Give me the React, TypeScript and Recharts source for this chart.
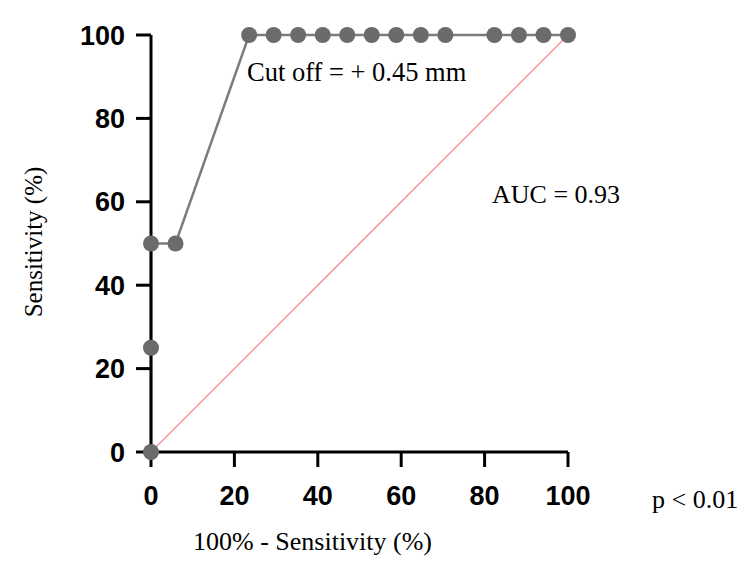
import { ComposedChart, Line, XAxis, YAxis } from 'recharts'

// ROC curve points: 100% - specificity vs sensitivity
const falsePositive = [0, 0, 0, 5.88, 23.53, 29.41, 35.29, 41.18, 47.06, 52.94, 58.82, 64.71, 70.59, 82.35, 88.24, 94.12, 100]
const sensitivity = [0, 25, 50, 50, 100, 100, 100, 100, 100, 100, 100, 100, 100, 100, 100, 100, 100]
const chanceX = [0, 100]
const ticks = [0, 20, 40, 60, 80, 100]

const cutOffText = 'Cut off = + 0.45 mm'
const aucText = 'AUC = 0.93'
const pText = 'p < 0.01'

const rocData = falsePositive.map((x, i) => ({ x, y: sensitivity[i] }))
const chanceData = chanceX.map((x) => ({ x, y: x }))

const serif = '"Liberation Serif", "Times New Roman", serif'
const tickStyle = { fill: '#000', fontSize: 27, fontWeight: 700, fontFamily: '"Liberation Sans", Arial, sans-serif' }

export default function App() {
  return (
    <div style={{ position: 'absolute', left: 0, top: 0, width: 750, height: 562, background: '#fff' }}>
      <ComposedChart width={750} height={562} margin={{ top: 35, right: 182, bottom: 50, left: 91 }}>
        <XAxis
          type="number"
          dataKey="x"
          domain={[0, 100]}
          ticks={ticks}
          height={60}
          axisLine={{ stroke: '#000', strokeWidth: 3 }}
          tickLine={{ stroke: '#000', strokeWidth: 3 }}
          tickSize={15}
          tickMargin={19}
          tick={tickStyle}
        />
        <YAxis
          type="number"
          dataKey="y"
          domain={[0, 100]}
          ticks={ticks}
          width={60}
          axisLine={{ stroke: '#000', strokeWidth: 3 }}
          tickLine={{ stroke: '#000', strokeWidth: 3 }}
          tickSize={15}
          tickMargin={11}
          tick={tickStyle}
        />
        {/* chance diagonal */}
        <Line
          data={chanceData}
          dataKey="y"
          type="linear"
          stroke="#f29494"
          strokeWidth={1.5}
          dot={false}
          activeDot={false}
          isAnimationActive={false}
        />
        <Line
          data={rocData}
          dataKey="y"
          type="linear"
          stroke="#7c7c7c"
          strokeWidth={2.5}
          dot={{ r: 8, fill: '#6b6b6b', stroke: 'none' }}
          activeDot={false}
          isAnimationActive={false}
        />
      </ComposedChart>
      <svg width={750} height={562} style={{ position: 'absolute', left: 0, top: 0, pointerEvents: 'none' }}>
        <g fontFamily={serif} fill="#000">
          <text x={247} y={81} fontSize={26.5}>{cutOffText}</text>
          <text x={492} y={203} fontSize={26}>{aucText}</text>
          <text x={652} y={508} fontSize={26}>{pText}</text>
          <text x={193} y={550} fontSize={26}>100% - Sensitivity (%)</text>
          <text x={0} y={0} fontSize={25} textAnchor="middle" transform="translate(42 242) rotate(-90)">
            Sensitivity (%)
          </text>
        </g>
      </svg>
    </div>
  )
}
